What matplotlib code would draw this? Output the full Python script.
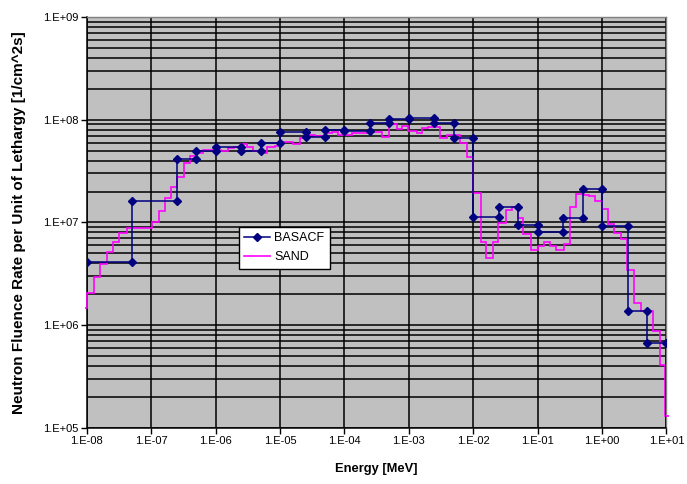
import numpy as np
import matplotlib
matplotlib.use("Agg")
import matplotlib.pyplot as plt
from matplotlib.ticker import LogLocator, FuncFormatter, NullLocator
from matplotlib.lines import Line2D

# ---------------- data ----------------
basa_edges = [1e-8, 5e-8, 2.5e-7, 5e-7, 1e-6, 2.5e-6, 5e-6, 1e-5, 2.5e-5, 5e-5,
              1e-4, 2.5e-4, 5e-4, 1e-3, 2.5e-3, 5e-3, 1e-2, 2.5e-2, 5e-2, 1e-1,
              2.5e-1, 5e-1, 1.0, 2.5, 5.0, 10.0]
basa_flux = [4.16e6, 1.62e7, 4.12e7, 5.0e7, 5.47e7, 4.93e7, 5.9e7, 7.65e7, 6.84e7, 7.94e7,
             7.75e7, 9.23e7, 1.01e8, 1.03e8, 9.3e7, 6.6e7, 1.14e7, 1.43e7, 9.46e6, 8.08e6,
             1.11e7, 2.12e7, 9.25e6, 1.38e6, 6.76e5]

sand_edges = [9.4e-9, 1.0e-8, 1.31e-8, 1.61e-8, 2.05e-8, 2.54e-8, 3.21e-8, 4.18e-8, 1.02e-7, 1.33e-7,
              1.64e-7, 2.01e-7, 2.50e-7, 3.24e-7, 4.02e-7, 5.11e-7, 6.32e-7, 1.0e-6, 1.22e-6, 1.56e-6,
              1.94e-6, 2.49e-6, 3.08e-6, 3.82e-6, 4.91e-6, 6.31e-6, 8.4e-6, 1.04e-5, 1.60e-5, 2.05e-5,
              2.54e-5, 3.51e-5, 5.01e-5, 6.44e-5, 7.98e-5, 1.32e-4, 2.51e-4, 3.85e-4, 4.94e-4, 5.50e-4,
              6.58e-4, 7.87e-4, 9.75e-4, 1.35e-3, 1.61e-3, 2.0e-3, 3.06e-3, 3.94e-3, 6.27e-3, 8.13e-3,
              1.01e-2, 1.31e-2, 1.58e-2, 2.01e-2, 2.46e-2, 3.21e-2, 3.97e-2, 5.03e-2, 6.02e-2, 7.84e-2,
              0.101, 0.126, 0.156, 0.194, 0.254, 0.320, 0.396, 0.514, 0.637, 0.781,
              1.0, 1.26, 1.54, 1.96, 2.48, 3.18, 4.0, 6.15, 7.98, 9.55, 11.0]
sand_flux = [1.46e6, 2.07e6, 2.97e6, 3.95e6, 5.20e6, 6.51e6, 7.96e6, 8.78e6, 1.01e7, 1.30e7,
             1.72e7, 2.23e7, 2.79e7, 3.82e7, 4.47e7, 4.78e7, 5.08e7, 5.13e7, 4.96e7, 5.25e7,
             5.43e7, 5.85e7, 5.47e7, 4.96e7, 4.71e7, 5.47e7, 5.59e7, 6.11e7, 5.77e7, 6.6e7,
             7.11e7, 6.95e7, 7.38e7, 7.55e7, 7.11e7, 7.38e7, 7.65e7, 6.75e7, 9.36e7, 9.1e7,
             8.07e7, 8.69e7, 7.82e7, 7.38e7, 8.26e7, 8.56e7, 6.6e7, 7.11e7, 5.9e7, 4.37e7,
             1.92e7, 6.51e6, 4.48e6, 6.51e6, 9.82e6, 1.32e7, 1.43e7, 1.10e7, 7.73e6, 5.40e6,
             5.91e6, 6.51e6, 5.91e6, 5.40e6, 6.18e6, 1.43e7, 1.89e7, 1.85e7, 1.81e7, 1.63e7,
             1.34e7, 9.67e6, 7.85e6, 6.86e6, 3.45e6, 1.66e6, 1.38e6, 8.79e5, 4.07e5, 1.31e5]

series_names = ["BASACF", "SAND"]
x_label = "Energy [MeV]"
y_label = "Neutron Fluence Rate per Unit of Lethargy [1/cm^2s]"

# ---------------- style ----------------
plt.rcParams['font.family'] = ['Liberation Sans', 'DejaVu Sans']
navy = "#000080"
magenta = "#FF00FF"

fig = plt.figure(figsize=(6.87, 4.84), dpi=100)
ax = fig.add_axes([0.1262, 0.1157, 0.8438, 0.8492])
ax.set_facecolor("#C0C0C0")
ax.set_xscale("log")
ax.set_yscale("log")
ax.set_xlim(1e-8, 1e1)
ax.set_ylim(1e5, 1e9)

# grid: horizontal at major + minor, vertical at decades
ax.yaxis.set_major_locator(LogLocator(base=10, numticks=20))
ax.yaxis.set_minor_locator(LogLocator(base=10, subs=np.arange(2, 10), numticks=20))
ax.xaxis.set_major_locator(LogLocator(base=10, numticks=20))
ax.xaxis.set_minor_locator(NullLocator())
ax.grid(True, axis='y', which='both', color='black', linewidth=1.1)
ax.grid(True, axis='x', which='major', color='black', linewidth=1.1)
ax.tick_params(axis='y', which='minor', length=0)
ax.tick_params(axis='both', which='major', length=4, width=1.0, direction='out',
               labelsize=8, colors='black', pad=2)
ax.set_axisbelow(True)

fmt = FuncFormatter(lambda v, p: "1.E%+03d" % int(round(np.log10(v))))
ax.xaxis.set_major_formatter(fmt)
ax.yaxis.set_major_formatter(fmt)

for s in ['left', 'bottom']:
    ax.spines[s].set_color('black')
    ax.spines[s].set_linewidth(1.1)
for s in ['top', 'right']:
    ax.spines[s].set_color('#808080')
    ax.spines[s].set_linewidth(1.0)

# SAND: step histogram
ax.stairs(sand_flux, sand_edges, baseline=None, color=magenta, linewidth=1.2,
          clip_on=False, zorder=3)

# BASACF: step line with markers at bin ends
bx, by = [], []
for i, v in enumerate(basa_flux):
    bx += [basa_edges[i], basa_edges[i + 1]]
    by += [v, v]
ax.plot(bx, by, color=navy, linewidth=1.1, marker='D', markersize=4,
        markerfacecolor=navy, markeredgecolor=navy, zorder=4)
# drop to axis at last edge
ax.plot([basa_edges[-1], basa_edges[-1]], [basa_flux[-1], 1e4], color=navy,
        linewidth=1.1, zorder=4)

handles = [Line2D([], [], color=navy, linewidth=1.1, marker='D', markersize=4),
           Line2D([], [], color=magenta, linewidth=1.2)]
leg = ax.legend(handles, series_names, loc='upper left', bbox_to_anchor=(0.262, 0.49),
                frameon=True, fancybox=False, edgecolor='black', facecolor='white',
                framealpha=1, fontsize=9, handlelength=2.1, handletextpad=0.3,
                borderpad=0.45, labelspacing=0.55, borderaxespad=0)
leg.get_frame().set_linewidth(1.0)

ax.set_xlabel(x_label, fontsize=9.3, fontweight='bold', labelpad=12)
ax.set_ylabel(y_label, fontsize=11, fontweight='bold', labelpad=12)

fig.savefig("out.png", dpi=100, facecolor='white')
